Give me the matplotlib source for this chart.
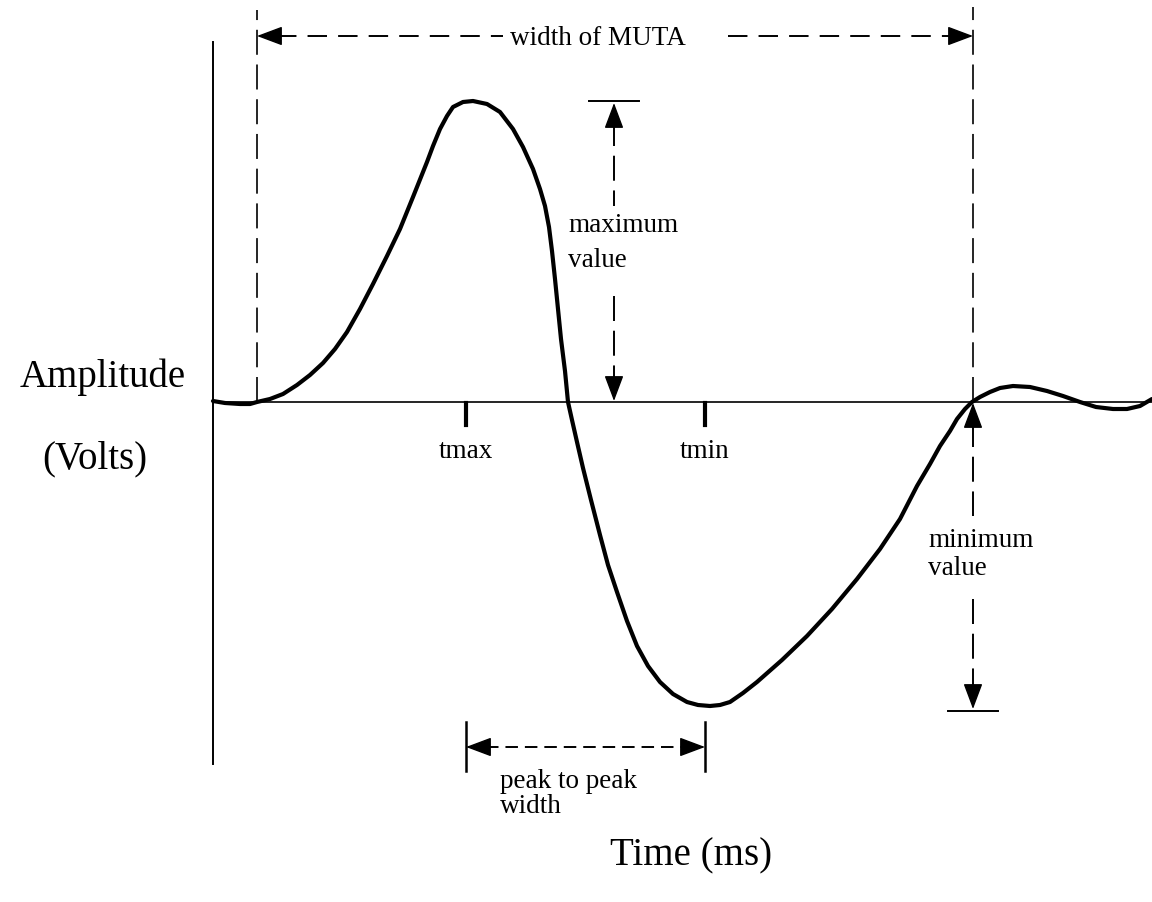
import matplotlib
matplotlib.use("Agg")
from matplotlib import pyplot as plt
import numpy as np

plt.rcParams['font.family'] = ['Liberation Serif', 'DejaVu Serif']
plt.rcParams['lines.scale_dashes'] = False

# waveform: time (ms, arbitrary origin) and amplitude (V)
t_ms = [0.00, 0.12, 0.27, 0.37, 0.44, 0.57, 0.70, 0.84, 0.97, 1.10, 1.22, 1.34,
        1.47, 1.60, 1.74, 1.87, 2.00, 2.14, 2.20, 2.27, 2.34, 2.40, 2.50, 2.60,
        2.74, 2.87, 3.00, 3.10, 3.20, 3.27, 3.32, 3.36, 3.39, 3.42, 3.45, 3.48,
        3.52, 3.55, 3.59, 3.64, 3.70, 3.78, 3.87, 3.95, 4.04, 4.14, 4.24, 4.35,
        4.47, 4.60, 4.74, 4.85, 4.97, 5.07, 5.17, 5.30, 5.44, 5.69, 5.94, 6.19,
        6.44, 6.67, 6.87, 7.04, 7.17, 7.27, 7.37, 7.44, 7.52, 7.59, 7.67, 7.77,
        7.87, 8.00, 8.17, 8.34, 8.50, 8.67, 8.83, 9.00, 9.14, 9.27, 9.39]
amp_v = [0.01, -0.01, -0.02, -0.02, 0.00, 0.03, 0.08, 0.17, 0.27, 0.39, 0.53, 0.70,
         0.93, 1.18, 1.46, 1.73, 2.05, 2.40, 2.56, 2.73, 2.86, 2.95, 3.00, 3.01,
         2.98, 2.90, 2.73, 2.55, 2.33, 2.13, 1.96, 1.75, 1.51, 1.23, 0.93, 0.63,
         0.31, 0.00, -0.18, -0.40, -0.66, -0.98, -1.33, -1.63, -1.90, -2.19, -2.44, -2.64,
         -2.80, -2.92, -3.00, -3.03, -3.04, -3.03, -3.00, -2.91, -2.80, -2.58, -2.34, -2.07,
         -1.77, -1.47, -1.17, -0.84, -0.62, -0.44, -0.29, -0.17, -0.07, 0.00, 0.05, 0.10,
         0.14, 0.16, 0.15, 0.11, 0.06, 0.00, -0.05, -0.07, -0.07, -0.04, 0.03]

t_max = 2.53        # time of the maximum
t_min = 4.92        # time of the minimum
muta_start = 0.44   # MUTA begins
muta_end = 7.60     # MUTA ends
v_max = max(amp_v)
v_min = min(amp_v) - 0.05

fig = plt.figure(figsize=(11.52, 9.03), dpi=100)
ax = fig.add_axes([0, 0, 1, 1])
ax.set_xlim(-2.13, 9.39)
ax.set_ylim(-5.00, 4.03)
ax.axis('off')

k = 'black'
small = 19.5
big = 28


def head(x, y, dx, dy):
    # solid filled arrow head with tip at (x, y) pointing along (dx, dy)
    ax.annotate('', xy=(x, y), xytext=(x - dx * 0.22, y - dy * 0.22),
                arrowprops=dict(arrowstyle='-|>,head_length=0.8,head_width=0.3',
                                mutation_scale=20, color=k, lw=1,
                                shrinkA=0, shrinkB=0))


# axes of the sketch
ax.plot([0, 0], [-3.62, 3.60], color=k, lw=1.4)
ax.plot([0, 9.39], [0, 0], color=k, lw=1.2)

# waveform
ax.plot(t_ms, amp_v, color=k, lw=3.0, solid_capstyle='round', solid_joinstyle='round')

# tmax / tmin ticks
for tt, lab in [(t_max, 'tmax'), (t_min, 'tmin')]:
    ax.plot([tt, tt], [-0.01, -0.23], color=k, lw=3.0)
    ax.text(tt, -0.55, lab, fontsize=small, ha='center', va='baseline')

# width of MUTA
dash_v = (0, (18, 7))
ax.plot([muta_start, muta_start], [0, 3.92], color=k, lw=1.2, ls=dash_v)
ax.plot([muta_end, muta_end], [0, 3.95], color=k, lw=1.2, ls=dash_v)
y_top = 3.66
ax.plot([muta_start + 0.2, 2.90], [y_top, y_top], color=k, lw=1.4, ls=(0, (14, 8)))
ax.plot([5.15, muta_end - 0.2], [y_top, y_top], color=k, lw=1.4, ls=(0, (14, 8)))
head(muta_start, y_top, -1, 0)
head(muta_end, y_top, 1, 0)
ax.text(3.85, 3.58, 'width of MUTA', fontsize=small, ha='center', va='baseline')

# maximum value
x_mx = 4.01
ax.plot([x_mx - 0.25, x_mx + 0.25], [v_max, v_max], color=k, lw=1.4)
ax.plot([x_mx, x_mx], [v_max - 0.2, 1.96], color=k, lw=1.4, ls=dash_v)
ax.plot([x_mx, x_mx], [1.06, 0.2], color=k, lw=1.4, ls=dash_v)
head(x_mx, v_max - 0.02, 0, 1)
head(x_mx, 0.01, 0, -1)
ax.text(3.55, 1.71, 'maximum', fontsize=small, ha='left', va='baseline')
ax.text(3.55, 1.36, 'value', fontsize=small, ha='left', va='baseline')

# minimum value
x_mn = muta_end
ax.plot([x_mn - 0.25, x_mn + 0.25], [v_min, v_min], color=k, lw=1.4)
ax.plot([x_mn, x_mn], [-0.2, -1.14], color=k, lw=1.4, ls=dash_v)
ax.plot([x_mn, x_mn], [-1.97, v_min + 0.2], color=k, lw=1.4, ls=dash_v)
head(x_mn, -0.01, 0, 1)
head(x_mn, v_min + 0.02, 0, -1)
ax.text(7.15, -1.44, 'minimum', fontsize=small, ha='left', va='baseline')
ax.text(7.15, -1.72, 'value', fontsize=small, ha='left', va='baseline')

# peak to peak width
y_pp = -3.45
for tt in (t_max, t_min):
    ax.plot([tt, tt], [-3.20, -3.69], color=k, lw=1.8)
ax.plot([t_max + 0.2, t_min - 0.2], [y_pp, y_pp], color=k, lw=1.4, ls=(0, (9, 5)))
head(t_max, y_pp, -1, 0)
head(t_min, y_pp, 1, 0)
ax.text(2.87, -3.85, 'peak to peak', fontsize=small, ha='left', va='baseline')
ax.text(2.87, -4.10, 'width', fontsize=small, ha='left', va='baseline')

# axis titles
ax.text(-1.10, 0.16, 'Amplitude', fontsize=big, ha='center', va='baseline')
ax.text(-1.18, -0.65, '(Volts)', fontsize=big, ha='center', va='baseline')
ax.text(4.78, -4.62, 'Time (ms)', fontsize=big, ha='center', va='baseline')

plt.savefig('out.png', dpi=100)
